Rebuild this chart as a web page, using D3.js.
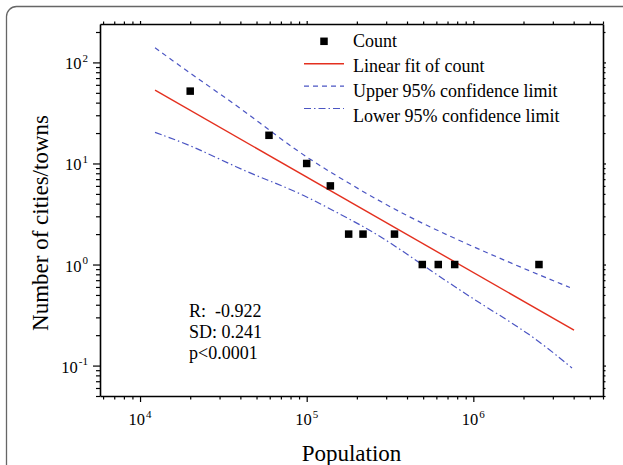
<!DOCTYPE html>
<html>
<head>
<meta charset="utf-8">
<script src="https://cdn.jsdelivr.net/npm/d3@7"></script>
<style>
body { margin: 0; background: #fff; }
text { font-family: "Liberation Serif", "Times New Roman", serif; fill: #000; }
</style>
</head>
<body>
<div id="chart"></div>
<script>
// values
var countPop = [20000, 59400, 100000, 138700, 178600, 217800, 336500, 494000, 616000, 773000, 2477000];
var countVal = [52, 19, 10, 6, 2, 2, 2, 1, 1, 1, 1];
var fitPop = [12300, 4020000];
var fitVal = [53.2, 0.224];
var upperPop = [12300, 21400, 42700, 85200, 165900, 363000, 794000, 1738000, 3800000];
var upperVal = [139.5, 72.0, 32.9, 13.5, 6.83, 3.24, 1.77, 1.007, 0.592];
var lowerPop = [12300, 21400, 42700, 85200, 170000, 275000, 550000, 1097000, 2190000, 3910000];
var lowerVal = [20.3, 14.6, 8.26, 5.44, 2.96, 1.95, 0.878, 0.411, 0.207, 0.0947];
var legendNames = ["Count", "Linear fit of count", "Upper 95% confidence limit", "Lower 95% confidence limit"];
var statLines = ["R:  -0.922", "SD: 0.241", "p<0.0001"];
var xDomain = [5750, 6e6];
var yDomain = [0.05, 240];

var w = 623, h = 465;
var m = {left: 100, right: 20, top: 24, bottom: 69};
var red = "#e4301f", blue = "#4b55c3";

var svg = d3.select("#chart").append("svg").attr("width", w).attr("height", h);

// outer rounded frame
svg.append("rect").attr("x", 6.5).attr("y", 6.5).attr("width", 700).attr("height", 600)
  .attr("rx", 10).attr("fill", "none").attr("stroke", "#666").attr("stroke-width", 1.3);

var x = d3.scaleLog().domain(xDomain).range([m.left, w - m.right]);
var y = d3.scaleLog().domain(yDomain).range([h - m.bottom, m.top]);

function isMajor(d) { var l = Math.log10(d); return Math.abs(l - Math.round(l)) < 1e-6; }

var xt = x.ticks(), yt = y.ticks();

function styleAxis(g, major, minor) {
  g.select(".domain").attr("stroke", "#000").attr("stroke-width", 1.6);
  g.selectAll(".tick line").attr("stroke", "#000").attr("stroke-width", 1.2)
    .each(function(d) {
      var l = d3.select(this);
      var k = isMajor(d) ? major : minor;
      if (l.attr("x2") != null && +l.attr("x2") !== 0) l.attr("x2", Math.sign(+l.attr("x2")) * k);
      if (l.attr("y2") != null && +l.attr("y2") !== 0) l.attr("y2", Math.sign(+l.attr("y2")) * k);
    });
  g.selectAll(".tick text").remove();
}

svg.append("g").attr("transform", "translate(0," + (h - m.bottom) + ")")
  .call(d3.axisBottom(x).tickValues(xt).tickSizeOuter(0).tickFormat(""))
  .call(styleAxis, 6, 3.5);
svg.append("g").attr("transform", "translate(0," + m.top + ")")
  .call(d3.axisTop(x).tickValues(xt).tickSizeOuter(0).tickFormat(""))
  .call(styleAxis, 3, 2.5);
svg.append("g").attr("transform", "translate(" + m.left + ",0)")
  .call(d3.axisLeft(y).tickValues(yt).tickSizeOuter(0).tickFormat(""))
  .call(styleAxis, 7, 4);
svg.append("g").attr("transform", "translate(" + (w - m.right) + ",0)")
  .call(d3.axisRight(y).tickValues(yt).tickSizeOuter(0).tickFormat(""))
  .call(styleAxis, 3, 2.5);

// tick labels as 10 with superscript
var xl = svg.append("g").selectAll("text").data(xt.filter(isMajor)).enter().append("text")
  .attr("x", function(d) { return x(d); }).attr("y", 425)
  .attr("text-anchor", "middle").style("font-size", "16.5px");
xl.append("tspan").text("10");
xl.append("tspan").attr("dy", -7.5).attr("dx", 1).style("font-size", "11px")
  .text(function(d) { return Math.round(Math.log10(d)); });

var yl = svg.append("g").selectAll("text").data(yt.filter(isMajor)).enter().append("text")
  .attr("x", 88).attr("y", function(d) { return y(d) + 7; })
  .attr("text-anchor", "end").style("font-size", "16.5px");
yl.append("tspan").text("10");
yl.append("tspan").attr("dy", -7.5).attr("dx", 1).style("font-size", "11px")
  .text(function(d) { return Math.round(Math.log10(d)); });

// axis titles
svg.append("text").attr("x", (m.left + w - m.right) / 2).attr("y", 460.5)
  .attr("text-anchor", "middle").style("font-size", "23px").text("Population");
svg.append("text").attr("transform", "translate(48,223) rotate(-90)")
  .attr("text-anchor", "middle").style("font-size", "23px").text("Number of cities/towns");

// lines
var line = d3.line().x(function(d) { return x(d[0]); }).y(function(d) { return y(d[1]); });
var bandLine = d3.line().curve(d3.curveBasis).x(function(d) { return x(d[0]); }).y(function(d) { return y(d[1]); });

svg.append("path").datum(d3.zip(upperPop, upperVal)).attr("d", bandLine)
  .attr("fill", "none").attr("stroke", blue).attr("stroke-width", 1.2).attr("stroke-dasharray", "5,4");
svg.append("path").datum(d3.zip(lowerPop, lowerVal)).attr("d", bandLine)
  .attr("fill", "none").attr("stroke", blue).attr("stroke-width", 1.2).attr("stroke-dasharray", "7,3,1.5,3");
svg.append("path").datum(d3.zip(fitPop, fitVal)).attr("d", line)
  .attr("fill", "none").attr("stroke", red).attr("stroke-width", 1.4);

// points
var sq = 7.5;
svg.append("g").selectAll("rect").data(d3.zip(countPop, countVal)).enter().append("rect")
  .attr("x", function(d) { return x(d[0]) - sq / 2; })
  .attr("y", function(d) { return y(d[1]) - sq / 2; })
  .attr("width", sq).attr("height", sq).attr("fill", "#000");

// legend
var lg = svg.append("g");
legendNames.forEach(function(name, i) {
  var sy = 41.3 + i * 22.4;
  if (i === 0) {
    lg.append("rect").attr("x", 324 - sq / 2).attr("y", sy - sq / 2).attr("width", sq).attr("height", sq).attr("fill", "#000");
  } else {
    lg.append("line").attr("x1", 304).attr("x2", 344).attr("y1", sy).attr("y2", sy)
      .attr("stroke", i === 1 ? red : blue).attr("stroke-width", i === 1 ? 1.4 : 1.2)
      .attr("stroke-dasharray", i === 2 ? "5,4" : i === 3 ? "7,3,1.5,3" : null);
  }
  lg.append("text").attr("x", 353).attr("y", 47.3 + i * 25).style("font-size", "18px").text(name);
});

// stats
svg.append("g").selectAll("text").data(statLines).enter().append("text")
  .attr("x", 189).attr("y", function(d, i) { return 317.3 + i * 21; })
  .style("font-size", "18px").style("white-space", "pre").text(function(d) { return d; });
</script>
</body>
</html>
